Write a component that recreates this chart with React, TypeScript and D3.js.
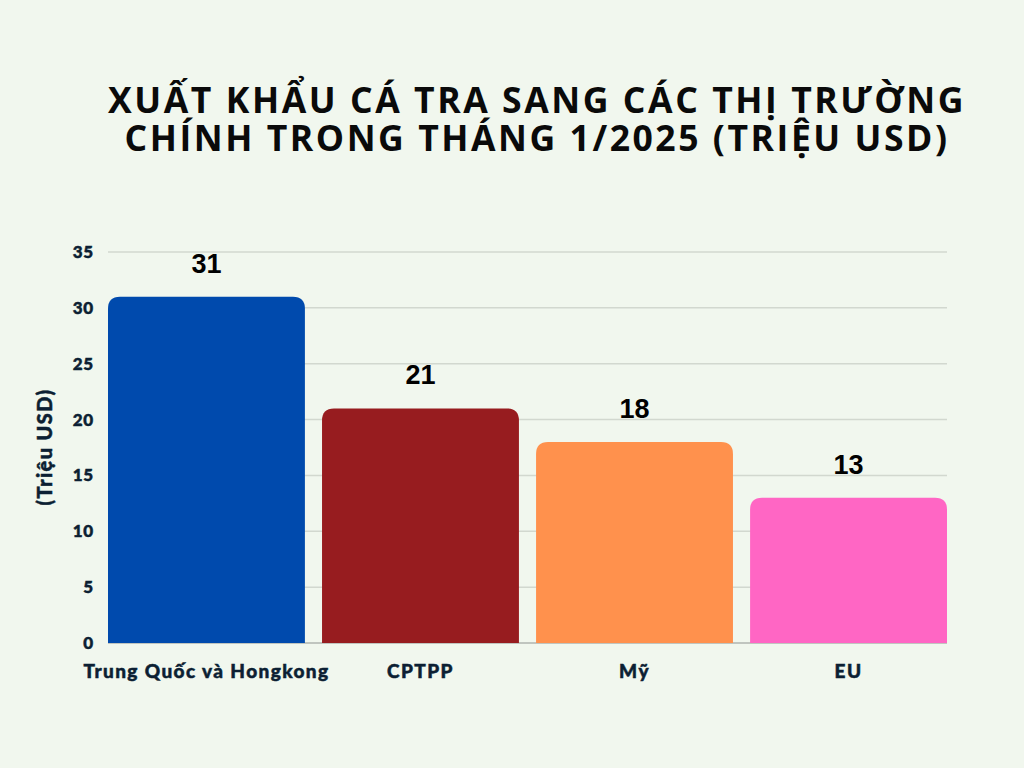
import * as d3 from "d3";

const WIDTH = 1024;
const HEIGHT = 768;
const MARGIN = { top: 252, right: 77, bottom: 125, left: 108 };

const categories = ["Trung Quốc và Hongkong", "CPTPP", "Mỹ", "EU"];
const values = [31, 21, 18, 13];
const barColors = ["#004aad", "#971c1f", "#ff914d", "#ff66c4"];
const yTicks = [0, 5, 10, 15, 20, 25, 30, 35];
const titleLines = [
  "XUẤT KHẨU CÁ TRA SANG CÁC THỊ TRƯỜNG",
  "CHÍNH TRONG THÁNG 1/2025 (TRIỆU USD)",
];
const titleWidths = [858, 825];
const yAxisTitle = "(Triệu USD)";

const INK = "#0c1f33";
const LABEL_FONT = "Lato, 'DejaVu Sans', sans-serif";

// bar with rounded top corners only
const topRoundedBar = (x: number, y: number, w: number, h: number, r: number) => {
  const rr = Math.min(r, w / 2, h);
  return [
    `M${x},${y + h}`,
    `L${x},${y + rr}`,
    `Q${x},${y} ${x + rr},${y}`,
    `L${x + w - rr},${y}`,
    `Q${x + w},${y} ${x + w},${y + rr}`,
    `L${x + w},${y + h}`,
    "Z",
  ].join(" ");
};

export default function App() {
  const innerW = WIDTH - MARGIN.left - MARGIN.right;
  const innerH = HEIGHT - MARGIN.top - MARGIN.bottom;

  const x = d3
    .scaleBand<string>()
    .domain(categories)
    .range([0, innerW])
    .paddingInner(0.08)
    .paddingOuter(0);

  const y = d3.scaleLinear().domain([0, 35]).range([innerH, 0]);

  // the labels in the original are a heavier face than Lato Bold
  const heavy = { stroke: INK, strokeWidth: 0.5, paintOrder: "stroke" as const };

  return (
    <svg
      width={WIDTH}
      height={HEIGHT}
      style={{ position: "absolute", left: 0, top: 0, background: "#f1f7ee" }}
    >
      <rect width={WIDTH} height={HEIGHT} fill="#f1f7ee" />

      {/* Title */}
      {titleLines.map((line, i) => (
        <text
          key={i}
          x={537}
          y={113 + i * 38}
          textAnchor="middle"
          fontFamily="'Open Sans', 'Noto Sans', sans-serif"
          fontWeight={700}
          fontSize={35}
          letterSpacing={2.5}
          textLength={titleWidths[i]}
          lengthAdjust="spacingAndGlyphs"
          fill="#0a0a0a"
        >
          {line}
        </text>
      ))}

      <g transform={`translate(${MARGIN.left},${MARGIN.top})`}>
        {/* Grid lines */}
        {yTicks.map((t) => (
          <line
            key={t}
            x1={0}
            x2={innerW}
            y1={y(t)}
            y2={y(t)}
            stroke={t === 0 ? "#8f9490" : "#d2d8cf"}
            strokeWidth={t === 0 ? 1.2 : 1.5}
          />
        ))}

        {/* Y tick labels */}
        {yTicks.map((t) => (
          <text
            key={t}
            x={-14}
            y={y(t)}
            dy="0.35em"
            textAnchor="end"
            fontFamily={LABEL_FONT}
            fontWeight={900}
            fontSize={17}
            letterSpacing={0.8}
            fill={INK}
            {...heavy}
          >
            {t}
          </text>
        ))}

        {/* Bars */}
        {categories.map((c, i) => (
          <path
            key={c}
            d={topRoundedBar(x(c) ?? 0, y(values[i]), x.bandwidth(), innerH - y(values[i]), 12)}
            fill={barColors[i]}
          />
        ))}

        {/* Value labels */}
        {categories.map((c, i) => (
          <text
            key={c}
            x={(x(c) ?? 0) + x.bandwidth() / 2}
            y={y(values[i]) - 24}
            textAnchor="middle"
            fontFamily="'Liberation Sans', Arial, sans-serif"
            fontWeight={700}
            fontSize={27}
            fill="#000"
          >
            {values[i]}
          </text>
        ))}

        {/* X labels */}
        {categories.map((c) => (
          <text
            key={c}
            x={(x(c) ?? 0) + x.bandwidth() / 2}
            y={innerH + 35}
            textAnchor="middle"
            fontFamily={LABEL_FONT}
            fontWeight={900}
            fontSize={19}
            letterSpacing={1.4}
            fill={INK}
            {...heavy}
          >
            {c}
          </text>
        ))}
      </g>

      {/* Y axis title */}
      <text
        transform="translate(52,447) rotate(-90)"
        textAnchor="middle"
        fontFamily={LABEL_FONT}
        fontWeight={900}
        fontSize={20}
        letterSpacing={1.4}
        fill={INK}
        {...heavy}
      >
        {yAxisTitle}
      </text>
    </svg>
  );
}
